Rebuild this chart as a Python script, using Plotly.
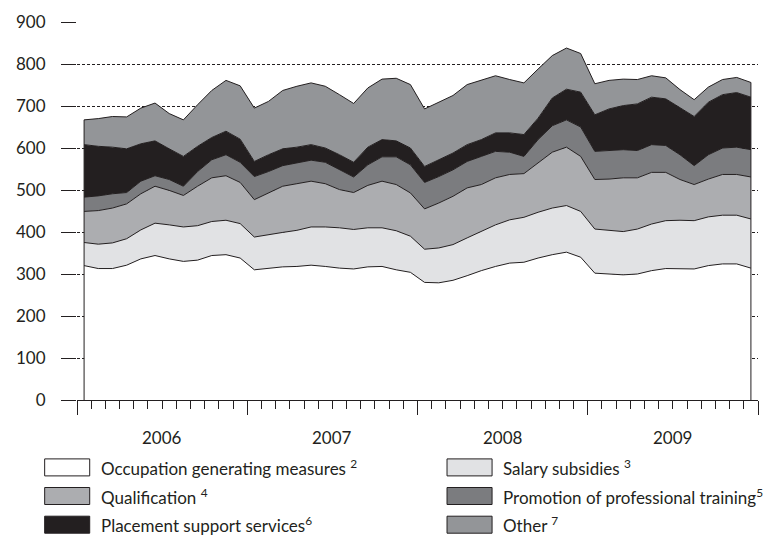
import plotly.graph_objects as go

# Monthly participants (thousands), Jan 2006 - Dec 2009
YEARS = ["2006", "2007", "2008", "2009"]

occupation = [320, 313, 313, 321, 336, 344, 336, 330, 333, 344, 346, 338,
              310, 314, 317, 318, 321, 318, 314, 312, 317, 318, 310, 304,
              280, 279, 285, 296, 308, 318, 326, 328, 338, 346, 352, 340,
              302, 300, 298, 300, 308, 313, 313, 312, 320, 324, 324, 314]
salary = [55, 58, 61, 63, 69, 77, 81, 82, 82, 81, 82, 82,
          78, 80, 82, 86, 91, 94, 96, 94, 93, 92, 93, 86,
          79, 83, 85, 90, 93, 99, 103, 107, 109, 111, 111, 109,
          105, 104, 103, 107, 111, 114, 115, 115, 116, 116, 116, 117]
qualification = [74, 80, 83, 83, 86, 88, 82, 75, 94, 104, 106, 98,
                 89, 99, 110, 111, 109, 103, 91, 88, 101, 111, 110, 103,
                 96, 107, 115, 119, 112, 112, 108, 104, 117, 133, 139, 131,
                 118, 122, 128, 122, 123, 115, 97, 86, 90, 97, 97, 100]
promotion = [34, 35, 34, 27, 30, 25, 26, 22, 35, 43, 50, 48,
             55, 51, 49, 49, 50, 51, 47, 37, 49, 58, 66, 67,
             63, 63, 63, 63, 67, 63, 53, 41, 56, 63, 65, 70,
             67, 68, 67, 65, 66, 64, 59, 45, 58, 63, 65, 65]
placement = [125, 118, 111, 104, 89, 83, 73, 71, 60, 53, 56, 55,
             36, 40, 40, 38, 37, 34, 36, 35, 42, 41, 38, 40,
             38, 40, 40, 40, 40, 44, 46, 52, 51, 66, 73, 83,
             87, 99, 105, 111, 113, 111, 111, 117, 125, 127, 130, 125]
other = [59, 66, 73, 76, 85, 90, 84, 87, 99, 112, 121, 127,
         127, 127, 139, 145, 147, 147, 143, 140, 141, 144, 149, 151,
         137, 137, 137, 143, 141, 136, 127, 123, 117, 101, 98, 92,
         74, 68, 63, 58, 51, 50, 44, 40, 36, 36, 36, 35]

SERIES = [
    ("Occupation generating measures <sup>2</sup>", occupation, "#ffffff"),
    ("Salary subsidies <sup>3</sup>", salary, "#e1e2e4"),
    ("Qualification <sup>4</sup>", qualification, "#acadb0"),
    ("Promotion of professional training<sup>5</sup>", promotion, "#7b7c7f"),
    ("Placement support services<sup>6</sup>", placement, "#231f20"),
    ("Other <sup>7</sup>", other, "#939598"),
]

INK = "#231f20"
FONT = "Lato, Roboto, sans-serif"

# plot area in page pixels
X0, X1, Y0, Y1 = 77.3, 757.7, 22.3, 400.3
W, H = 781, 537

# months placed in the middle of each month slot
x = [m + 0.5 for m in range(len(occupation))]

fig = go.Figure()
for name, vals, color in SERIES:
    fig.add_trace(
        go.Scatter(
            x=x,
            y=vals,
            name=name,
            mode="lines",
            stackgroup="one",
            fillcolor=color,
            line=dict(color=INK, width=1),
            showlegend=False,
        )
    )

# close the outline of the stack at both ends
totals = [sum(v) for v in zip(*[s[1] for s in SERIES])]
for i in (0, -1):
    fig.add_trace(
        go.Scatter(
            x=[x[i], x[i]],
            y=[0, totals[i]],
            mode="lines",
            line=dict(color=INK, width=1),
            showlegend=False,
            hoverinfo="skip",
        )
    )

fig.update_xaxes(
    range=[0, len(x)],
    tickvals=[12 * k for k in range(len(YEARS) + 1)],
    showticklabels=False,
    ticks="outside",
    ticklen=14,
    tickcolor=INK,
    tickwidth=1,
    minor=dict(dtick=1, tick0=0, ticks="outside", ticklen=8, tickcolor=INK, tickwidth=1),
    showline=True,
    linecolor=INK,
    linewidth=1,
    showgrid=False,
    zeroline=False,
    fixedrange=True,
)
fig.update_yaxes(
    range=[0, 900],
    dtick=100,
    ticks="outside",
    ticklen=15,
    tickcolor=INK,
    tickwidth=1,
    ticklabelstandoff=12,
    showgrid=True,
    gridcolor=INK,
    gridwidth=1,
    griddash="3px,2px",
    zeroline=False,
    showline=False,
    fixedrange=True,
    tickfont=dict(family=FONT, size=17, color=INK),
)

# year labels centred under each year
for k, yr in enumerate(YEARS):
    fig.add_annotation(
        x=12 * k + 6, y=0, xref="x", yref="y", text=yr, showarrow=False,
        yshift=-37, font=dict(family=FONT, size=17, color=INK),
    )


def to_paper(sx, sy):
    return (sx - X0) / (X1 - X0), (Y1 - sy) / (Y1 - Y0)


# hand-built legend with wide swatches, two columns
legend_pos = [(0, 0), (1, 0), (0, 1), (1, 1), (0, 2), (1, 2)]
col_x = [45, 447]
row_y = [467.7, 496.3, 525]
for (name, _, color), (col, row) in zip(SERIES, legend_pos):
    bx0, by0 = to_paper(col_x[col], row_y[row] + 8.5)
    bx1, by1 = to_paper(col_x[col] + 45, row_y[row] - 8.5)
    fig.add_shape(
        type="rect", xref="paper", yref="paper",
        x0=bx0, x1=bx1, y0=by0, y1=by1,
        fillcolor=color, line=dict(color=INK, width=1),
    )
    tx, ty = to_paper(col_x[col] + 54, row_y[row])
    fig.add_annotation(
        xref="paper", yref="paper", x=tx, y=ty,
        xanchor="left", yanchor="middle", text=name, showarrow=False,
        font=dict(family=FONT, size=17, color=INK),
    )

fig.update_layout(
    width=W,
    height=H,
    margin=dict(l=X0, r=W - X1, t=Y0, b=H - Y1),
    paper_bgcolor="white",
    plot_bgcolor="white",
    showlegend=False,
    font=dict(family=FONT, size=17, color=INK),
)

# drop the default page margin so the figure sits at the top-left corner
fig.write_html(
    "out.html",
    config={"displayModeBar": False},
    post_script="document.body.style.margin='0';",
)
